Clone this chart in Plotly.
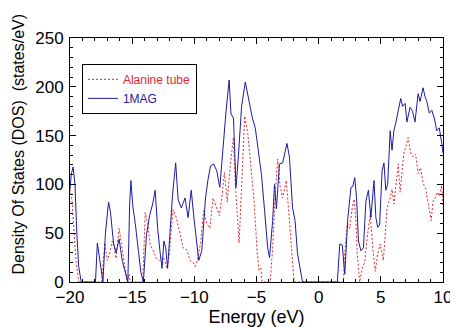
import plotly.graph_objects as go

# 1MAG density of states
energy_mag = [-20.0, -19.9, -19.75, -19.6, -19.45, -19.3, -19.1, -17.95, -17.8, -17.6, -17.35,
              -17.15, -16.9, -16.75, -16.5, -16.3, -16.05, -15.8, -15.6, -15.35, -15.2, -15.1,
              -14.95, -14.75, -14.5, -14.3, -14.1, -13.85, -13.6, -13.35, -13.15, -12.95, -12.75,
              -12.6, -12.45, -12.3, -12.15, -11.95, -11.75, -11.5, -11.3, -11.05, -10.75, -10.5,
              -10.25, -10.05, -9.85, -9.65, -9.4, -9.1, -8.9, -8.7, -8.45, -8.2, -7.95, -7.7,
              -7.45, -7.2, -7.05, -6.85, -6.65, -6.45, -6.2, -5.9, -5.65, -5.35, -5.1, -4.85,
              -4.6, -4.35, -4.1, -3.95, -3.7, -3.55, -3.4, -3.15, -2.9, -2.55, -2.35, -2.1, -1.9,
              -1.7, -1.45, -1.3, 1.5, 1.7, 1.9, 2.1, 2.35, 2.6, 2.75, 2.9, 3.05, 3.2, 3.4, 3.6,
              3.8, 4.0, 4.2, 4.35, 4.45, 4.6, 4.75, 4.9, 5.1, 5.25, 5.4, 5.55, 5.75, 5.9, 6.05,
              6.2, 6.4, 6.6, 6.75, 6.95, 7.1, 7.35, 7.55, 7.75, 8.0, 8.15, 8.4, 8.55, 8.7, 8.9,
              9.1, 9.3, 9.5, 9.7, 9.9, 10.0]
dos_mag = [95, 110, 118, 100, 50, 16, 0, 0, 40, 22, 0,
           50, 82, 72, 40, 30, 44, 22, 12, 0, 80, 104,
           78, 60, 32, 10, 0, 48, 68, 80, 94, 55, 30,
           14, 42, 35, 14, 50, 90, 122, 84, 76, 86, 66,
           94, 68, 45, 22, 32, 86, 105, 119, 121, 114, 97, 138,
           175, 207, 172, 168, 97, 130, 180, 205, 188, 169, 158, 135,
           110, 73, 35, 25, 63, 100, 75, 121, 122, 142, 128, 76, 63,
           29, 8, 0, 0, 39, 38, 8, 66, 97, 98, 107, 86, 42, 32, 35,
           83, 94, 66, 94, 104, 66, 56, 58, 114, 122, 94, 100, 155, 135, 155,
           163, 174, 188, 180, 183, 164, 179, 175, 164, 193, 185, 199, 190, 185, 173,
           176, 168, 155, 158, 142, 132]

# Alanine tube density of states
energy_ala = [-20.0, -19.85, -19.7, -19.5, -19.3, -17.45, -17.2, -17.0, -16.8, -16.6, -16.45,
              -16.3, -16.05, -15.9, -15.7, -15.55, -15.4, -15.25, -15.15, -14.15, -13.95, -13.75,
              -13.55, -13.3, -13.05, -12.8, -12.5, -12.2, -12.0, -11.85, -11.7, -11.45, -11.15,
              -10.9, -10.6, -10.35, -10.1, -9.95, -9.75, -9.5, -9.25, -9.0, -8.75, -8.5, -8.25,
              -8.0, -7.8, -7.58, -7.35, -7.12, -6.86, -6.7, -6.4, -6.15, -5.95, -5.7, -5.45,
              -5.2, -4.95, -4.8, -4.65, -4.55, -3.9, -3.7, -3.5, -3.3, -3.1, -2.9, -2.6, -2.4,
              -2.2, -2.0, -1.9, 2.0, 2.05, 2.3, 2.5, 2.7, 2.85, 3.0, 3.1, 3.3, 3.5, 3.7, 3.9,
              4.15, 4.35, 4.55, 4.75, 4.95, 5.2, 5.35, 5.5, 5.75, 5.9, 6.05, 6.2, 6.4, 6.55,
              6.7, 6.85, 7.0, 7.2, 7.4, 7.6, 7.8, 8.0, 8.2, 8.4, 8.6, 8.8, 9.05, 9.2, 9.35,
              9.55, 9.7, 9.9, 10.0]
dos_ala = [95, 85, 55, 20, 0, 0, 40, 22, 30, 42, 35,
           24, 55, 42, 21, 8, 0, 8, 0, 0, 71, 60,
           38, 32, 24, 22, 26, 14, 30, 55, 74, 66, 48,
           35, 33, 22, 20, 16, 22, 40, 73, 60, 55, 86, 78,
           68, 85, 112, 82, 118, 148, 100, 40, 121, 170, 152, 120,
           84, 32, 12, 14, 0, 0, 35, 90, 126, 98, 86, 104, 70,
           35, 4, 0, 0, 22, 60, 55, 76, 85, 62, 29, 0, 14, 20, 45,
           70, 35, 11, 29, 39, 22, 49, 76, 86, 95, 80, 97, 121, 92,
           110, 132, 138, 148, 132, 128, 131, 111, 117, 101, 96, 80, 63, 83, 86,
           92, 88, 99, 77]

FONT = "Liberation Sans, Arial, Helvetica, sans-serif"

fig = go.Figure()

fig.add_trace(
    go.Scatter(
        x=energy_ala,
        y=dos_ala,
        mode="lines",
        name="<span style='color:#e3262b'>Alanine tube</span>",
        line=dict(color="#e3262b", width=1, dash="2px,2px"),
    )
)

fig.add_trace(
    go.Scatter(
        x=energy_mag,
        y=dos_mag,
        mode="lines",
        name="<span style='color:#1c1ca0'>1MAG</span>",
        line=dict(color="#1c1ca0", width=1),
    )
)

axis_common = dict(
    showline=True,
    linecolor="black",
    linewidth=1,
    mirror="allticks",
    ticks="inside",
    ticklen=6,
    tickcolor="black",
    showgrid=False,
    zeroline=False,
    automargin=False,
    tickfont=dict(family=FONT, size=17, color="black"),
)

fig.update_xaxes(
    range=[-20, 10],
    dtick=5,
    title=dict(text="Energy (eV)", font=dict(family=FONT, size=18, color="black"), standoff=0),
    minor=dict(ticks="inside", dtick=1, ticklen=3, tickcolor="black"),
    **axis_common,
)
fig.update_yaxes(
    range=[0, 250],
    dtick=50,
    ticklabelstandoff=2,
    minor=dict(ticks="inside", dtick=10, ticklen=3, tickcolor="black"),
    **axis_common,
)

# y title as annotation so it can sit slightly above centre like the original
fig.add_annotation(
    text="Density Of States (DOS)  (states/eV)",
    xref="paper", yref="paper",
    x=-0.166, y=0.566,
    textangle=-90,
    showarrow=False,
    font=dict(family=FONT, size=16, color="black"),
)

# the page adds an 8px body margin, so the figure is 8px smaller than the window
fig.update_layout(
    width=450,
    height=319,
    margin=dict(l=62, r=15, t=30, b=45),
    plot_bgcolor="white",
    paper_bgcolor="white",
    legend=dict(
        x=0.032, y=0.894,
        xanchor="left", yanchor="top",
        bgcolor="white",
        bordercolor="black",
        borderwidth=1,
        font=dict(family=FONT, size=12),
    ),
)

fig.write_html("out.html")
